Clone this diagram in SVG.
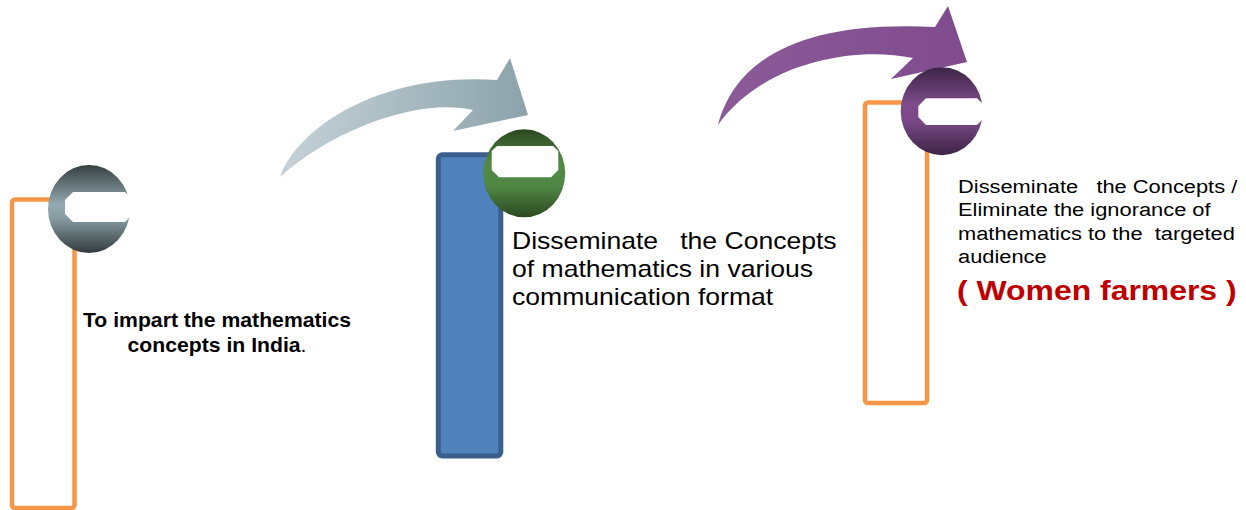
<svg xmlns="http://www.w3.org/2000/svg" width="1246" height="510" viewBox="0 0 1246 510">
<defs>
<linearGradient id="gGray" x1="0" y1="0" x2="0" y2="1">
<stop offset="0" stop-color="#363f40"/><stop offset="0.45" stop-color="#93aab0"/><stop offset="0.6" stop-color="#869da3"/><stop offset="1" stop-color="#333c3d"/>
</linearGradient>
<linearGradient id="gGreen" x1="0" y1="0" x2="0" y2="1">
<stop offset="0" stop-color="#2b461f"/><stop offset="0.38" stop-color="#528b47"/><stop offset="0.65" stop-color="#4f8644"/><stop offset="1" stop-color="#2c4a20"/>
</linearGradient>
<linearGradient id="gPurple" x1="0" y1="0" x2="0" y2="1">
<stop offset="0" stop-color="#3b2445"/><stop offset="0.42" stop-color="#7e4b8b"/><stop offset="0.62" stop-color="#7a4887"/><stop offset="1" stop-color="#3a2343"/>
</linearGradient>
<linearGradient id="gArrowGray" x1="280" y1="0" x2="528" y2="0" gradientUnits="userSpaceOnUse">
<stop offset="0" stop-color="#c5d2d7"/><stop offset="1" stop-color="#8ca3ab"/>
</linearGradient>
<linearGradient id="gArrowPurple" x1="718" y1="0" x2="967" y2="0" gradientUnits="userSpaceOnUse">
<stop offset="0" stop-color="#8c5a99"/><stop offset="1" stop-color="#7f4b8d"/>
</linearGradient>
</defs>
<style>
.frame{fill:none;stroke:#F79646;stroke-width:4.5}
.bar{fill:#4F81BD;stroke:#3A5F8C;stroke-width:5}
.cut{fill:#ffffff}
.txt{font-family:"Liberation Sans",Arial,sans-serif;fill:#000000}
.b{font-weight:bold}
.red{font-weight:bold;fill:#C00000}
</style>
<g id="connectors">
<path d="M280,177 C297,128 380,72 497,80 L510,58 L528,115 L453,131 L473,110 C420,98 335,128 280,177 Z" fill="url(#gArrowGray)"/>
<path d="M718,125 C735,60 800,20 935,27 L948,6 L967,62 L891,79 L913,58 C850,45 760,65 718,125 Z" fill="url(#gArrowPurple)"/>
</g>
<g id="node1">
<rect class="frame" x="12" y="199.5" width="62.5" height="308.5" rx="3"/>
<ellipse cx="89" cy="209" rx="41" ry="44" fill="url(#gGray)"/>
<polygon class="cut" points="73,192 125,192 131,198 131,216 125,222 73,222 65,214 65,200"/>
<text class="txt b" font-size="20" text-anchor="middle" transform="translate(217,327) scale(1.06,1)"><tspan x="0" y="0">To impart the mathematics</tspan><tspan x="0" y="25">concepts in India<tspan font-weight="normal">.</tspan></tspan></text>
</g>
<g id="node2">
<rect class="bar" x="438.3" y="154.8" width="62.5" height="301.2" rx="4"/>
<ellipse cx="524.2" cy="173.3" rx="41" ry="44" fill="url(#gGreen)"/>
<polygon class="cut" points="497,146 553,146 558.3,151 558.3,170 551,177.3 499,177.3 491.7,170 491.7,151"/>
<text class="txt" font-size="24" xml:space="preserve" transform="translate(512,248.5) scale(1.107,1)"><tspan x="0" y="0">Disseminate   the Concepts</tspan><tspan x="0" y="28.3">of mathematics in various</tspan><tspan x="0" y="56.5">communication format</tspan></text>
</g>
<g id="node3">
<rect class="frame" x="865" y="102.5" width="62" height="300.5" rx="3"/>
<ellipse cx="941.7" cy="111.2" rx="41" ry="44" fill="url(#gPurple)"/>
<polygon class="cut" points="926,98.3 977,98.3 984,105 984,118 977,125 926,125 918.3,117 918.3,106"/>
<text class="txt" font-size="19" xml:space="preserve" transform="translate(958,192.5) scale(1.15,1)"><tspan x="0" y="0">Disseminate   the Concepts /</tspan><tspan x="0" y="24">Eliminate the ignorance of</tspan><tspan x="0" y="47.5">mathematics to the  targeted</tspan><tspan x="0" y="71">audience</tspan></text>
<text class="txt red" font-size="28" transform="translate(957,300) scale(1.14,1)">( Women farmers )</text>
</g>
</svg>
